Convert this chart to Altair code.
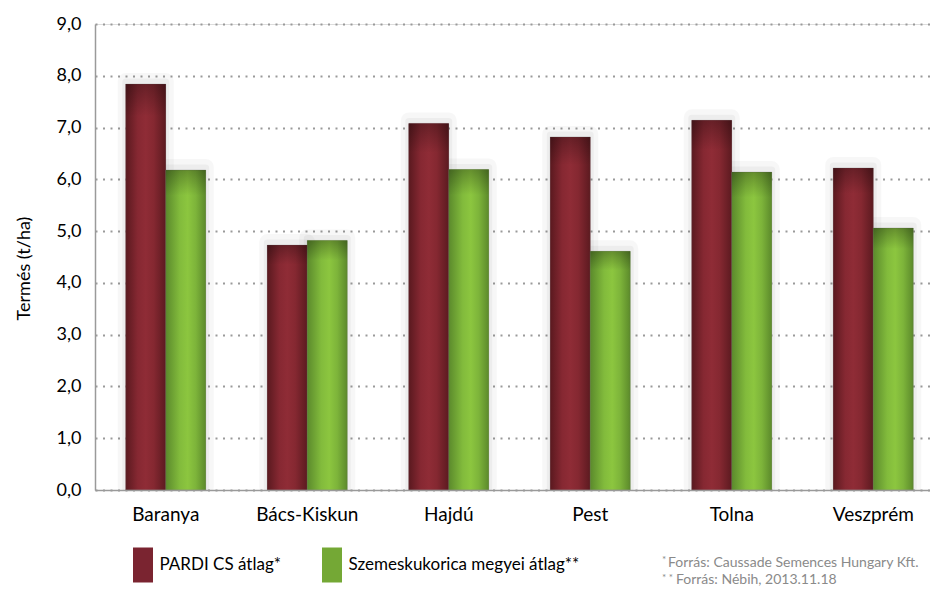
import altair as alt
import pandas as pd

# ---- data ----
regions = ["Baranya", "Bács-Kiskun", "Hajdú", "Pest", "Tolna", "Veszprém"]
pardi = [7.84, 4.73, 7.08, 6.82, 7.14, 6.22]
megyei = [6.18, 4.82, 6.19, 4.61, 6.14, 5.06]
series = ["PARDI CS átlag", "Szemeskukorica megyei átlag"]
y_ticks = [0, 1, 2, 3, 4, 5, 6, 7, 8, 9]
y_title = "Termés (t/ha)"
notes = ["Forrás:  Caussade Semences Hungary Kft.", "Forrás:  Nébih, 2013.11.18"]
note_marks = ["*", "* *"]

df = pd.DataFrame({
    "region": regions * 2,
    "series": [series[0]] * len(regions) + [series[1]] * len(regions),
    "value": pardi + megyei,
})

FONT = "Lato"

x_enc = alt.X(
    "region:N", sort=regions,
    scale=alt.Scale(range=[0, 849], paddingInner=0.4346, paddingOuter=0.2173),
    axis=alt.Axis(title=None, labelAngle=0, labelFontSize=19, labelColor="#000",
                  labelFont=FONT, labelPadding=15, ticks=False, domainColor="#9a9a9a",
                  domainWidth=1.5, grid=False, zindex=1),
)
xo_enc = alt.XOffset("series:N", sort=series,
                     scale=alt.Scale(paddingInner=0, paddingOuter=0))
y_enc = alt.Y(
    "value:Q",
    scale=alt.Scale(domain=[0, 9], nice=False, zero=True),
    axis=alt.Axis(values=y_ticks,
                  labelExpr="replace(format(datum.value,'.1f'),'.',',')",
                  labelFontSize=18, labelColor="#000", labelFont=FONT, labelPadding=14,
                  ticks=False, domainColor="#9a9a9a", domainWidth=1.5,
                  grid=True, gridColor="#9a9a9a", gridDash=[2, 5.5], gridWidth=2,
                  title=y_title, titleFont=FONT, titleFontSize=18, titleFontWeight="normal",
                  titleColor="#000", titleAngle=-90, titleX=-71, titleY=244,
                  titleAlign="center", titleBaseline="middle"),
)

base = alt.Chart(df)

# soft shadow halos (mostly top-right)
shadow1 = base.mark_bar(fillOpacity=0, stroke="#000", strokeOpacity=0.03, strokeWidth=16,
                        strokeJoin="round", clip=True, xOffset=5, x2Offset=5, yOffset=-3).encode(
    x=x_enc, xOffset=xo_enc, y=y_enc)
shadow2 = base.mark_bar(fillOpacity=0, stroke="#000", strokeOpacity=0.04, strokeWidth=7,
                        strokeJoin="round", clip=True, xOffset=3, x2Offset=3, yOffset=-2).encode(
    x=x_enc, xOffset=xo_enc, y=y_enc)

# solid bars carrying the legend
legend_bars = base.mark_bar().encode(
    x=x_enc, xOffset=xo_enc, y=y_enc,
    color=alt.Color(
        "series:N",
        scale=alt.Scale(domain=series, range=["#7a2430", "#74a835"]),
        legend=alt.Legend(
            orient="none", legendX=35.5, legendY=528.5, direction="horizontal",
            title=None, symbolType="M-0.8,-1.4L0.8,-1.4L0.8,1.4L-0.8,1.4Z",
            symbolSize=625, symbolStrokeWidth=0, symbolOpacity=1,
            labelFont=FONT, labelFontSize=17, labelColor="#000", labelOffset=4,
            labelLimit=400, columnPadding=38, padding=0,
            labelExpr="datum.label == '" + series[0] + "' ? datum.label + '*' : datum.label + '**'",
        ),
    ),
)

red_grad = alt.Gradient(
    gradient="linear", x1=0, x2=1, y1=0, y2=0,
    stops=[alt.GradientStop(color="#5a191f", offset=0),
           alt.GradientStop(color="#862832", offset=0.3),
           alt.GradientStop(color="#8f2c36", offset=0.5),
           alt.GradientStop(color="#852831", offset=0.7),
           alt.GradientStop(color="#5c1a20", offset=1)],
)
green_grad = alt.Gradient(
    gradient="linear", x1=0, x2=1, y1=0, y2=0,
    stops=[alt.GradientStop(color="#5b8a2c", offset=0),
           alt.GradientStop(color="#82bb3c", offset=0.35),
           alt.GradientStop(color="#8cc63f", offset=0.55),
           alt.GradientStop(color="#7db43a", offset=0.75),
           alt.GradientStop(color="#5c8a2b", offset=1)],
)

red_bars = base.mark_bar(fill=red_grad, stroke="#6a6a6a", strokeWidth=0.5, strokeOpacity=0.5).encode(
    x=x_enc, xOffset=xo_enc, y=y_enc
).transform_filter(alt.datum.series == series[0])
green_bars = base.mark_bar(fill=green_grad, stroke="#6a6a6a", strokeWidth=0.5, strokeOpacity=0.5).encode(
    x=x_enc, xOffset=xo_enc, y=y_enc
).transform_filter(alt.datum.series == series[1])

# top darkening overlay
top_shade = base.mark_bar(
    fill=alt.Gradient(gradient="linear", x1=0, x2=0, y1=0, y2=1,
                      stops=[alt.GradientStop(color="rgba(0,0,0,0.28)", offset=0),
                             alt.GradientStop(color="rgba(0,0,0,0)", offset=0.08),
                             alt.GradientStop(color="rgba(0,0,0,0)", offset=1)])
).encode(x=x_enc, xOffset=xo_enc, y=y_enc)

note_color = "#8a8a8a"
note1 = alt.Chart(pd.DataFrame({"t": [notes[0]]})).mark_text(
    align="left", baseline="alphabetic", font=FONT, fontSize=14, color=note_color
).encode(text="t:N", x=alt.value(573), y=alt.value(543))
note2 = alt.Chart(pd.DataFrame({"t": [notes[1]]})).mark_text(
    align="left", baseline="alphabetic", font=FONT, fontSize=14, color=note_color
).encode(text="t:N", x=alt.value(581), y=alt.value(560))
mark1 = alt.Chart(pd.DataFrame({"t": [note_marks[0]]})).mark_text(
    align="left", baseline="top", font=FONT, fontSize=10, color=note_color
).encode(text="t:N", x=alt.value(567), y=alt.value(531))
mark2 = alt.Chart(pd.DataFrame({"t": [note_marks[1]]})).mark_text(
    align="left", baseline="top", font=FONT, fontSize=10, color=note_color
).encode(text="t:N", x=alt.value(567), y=alt.value(549))

chart = alt.layer(
    shadow1, shadow2, legend_bars, red_bars, green_bars, top_shade,
    note1, note2, mark1, mark2
).properties(
    width=835, height=466,
    autosize=alt.AutoSizeParams(type="none"),
    padding={"left": 87, "top": 16, "right": 0, "bottom": 98},
).configure_view(stroke=None).configure(font=FONT)

chart.save("out.html", embed_options={"renderer": "svg", "actions": False})
